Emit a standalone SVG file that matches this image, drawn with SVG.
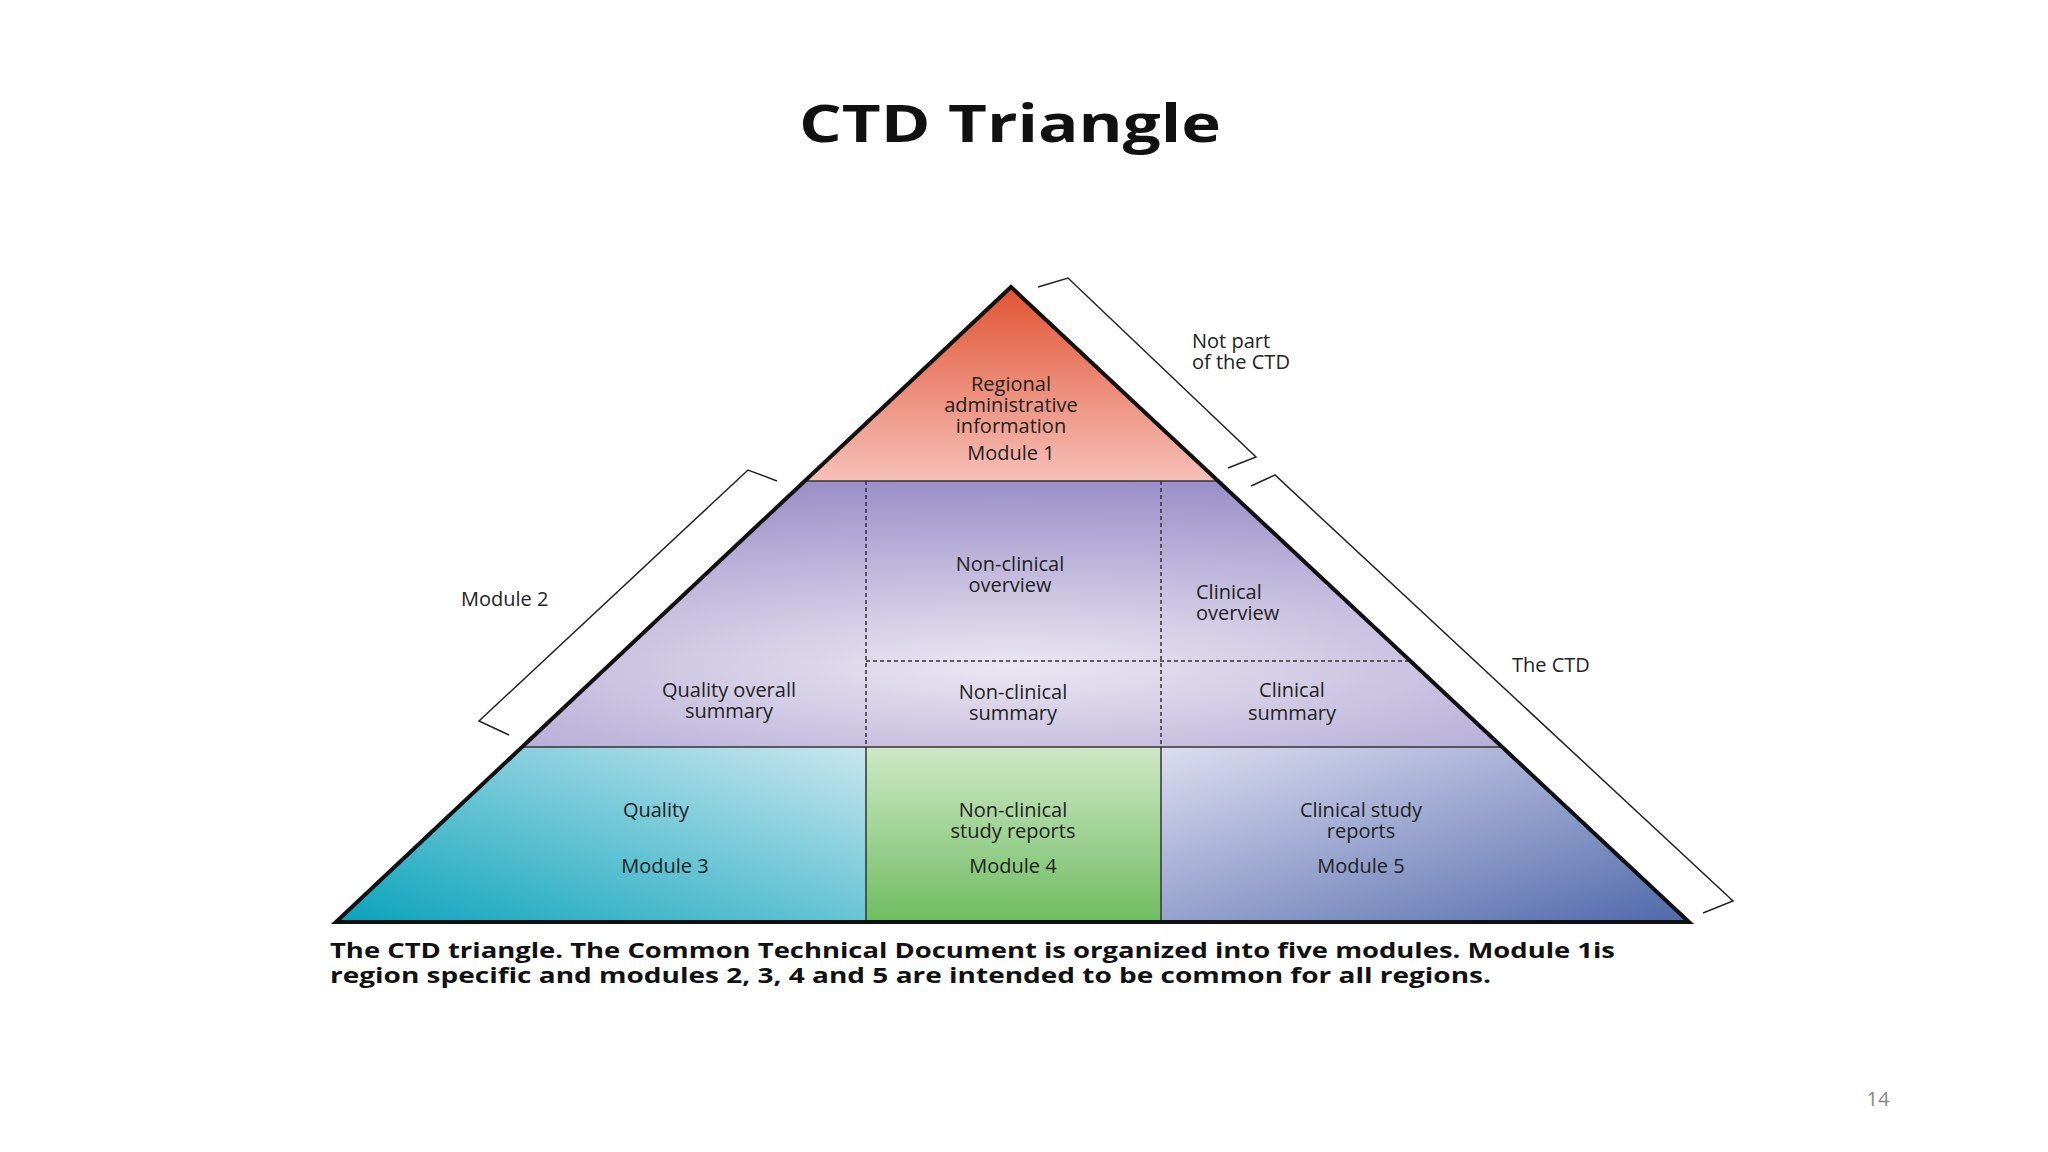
<svg xmlns="http://www.w3.org/2000/svg" width="2048" height="1152" viewBox="0 0 2048 1152">
<style>
.t{font-family:"Open Sans","Liberation Sans",sans-serif;font-size:20px;fill:#222;text-anchor:middle}
.l{text-anchor:start}
.b{fill:none;stroke:#222;stroke-width:1.5}
.c{font-family:"Open Sans","Liberation Sans",sans-serif;font-size:22px;font-weight:bold;fill:#111}
</style>
<defs>
<clipPath id="tri"><polygon points="1011,287 336,922 1689,922"/></clipPath>
<linearGradient id="gTop" x1="0" y1="0" x2="0" y2="1"><stop offset="0" stop-color="#e0502e"/><stop offset="1" stop-color="#f6c0b8"/></linearGradient>
<radialGradient id="gMid" cx="0.5" cy="0.7" r="0.7"><stop offset="0" stop-color="#ebe6f2"/><stop offset="1" stop-color="#9a90c8"/></radialGradient>
<linearGradient id="gQ" x1="0" y1="1" x2="1" y2="0"><stop offset="0" stop-color="#00a0b8"/><stop offset="1" stop-color="#c8e6ee"/></linearGradient>
<linearGradient id="gN" x1="0" y1="1" x2="0" y2="0"><stop offset="0" stop-color="#6cbb5e"/><stop offset="1" stop-color="#cfe8c6"/></linearGradient>
<linearGradient id="gC" x1="0" y1="0" x2="1" y2="1"><stop offset="0" stop-color="#dcdcef"/><stop offset="1" stop-color="#4a64a8"/></linearGradient>
</defs>
<rect width="2048" height="1152" fill="#fff"/>
<text x="799" y="142" textLength="422" lengthAdjust="spacingAndGlyphs" style="font-family:'Open Sans','Liberation Sans',sans-serif;font-size:52px;font-weight:bold;fill:#111">CTD Triangle</text>
<g id="pyramid" clip-path="url(#tri)">
<rect x="300" y="280" width="1420" height="201" fill="url(#gTop)"/>
<rect x="300" y="481" width="1420" height="266" fill="url(#gMid)"/>
<rect x="300" y="747" width="566" height="180" fill="url(#gQ)"/>
<rect x="866" y="747" width="295" height="180" fill="url(#gN)"/>
<rect x="1161" y="747" width="560" height="180" fill="url(#gC)"/>
<line x1="300" y1="481" x2="1720" y2="481" stroke="#333" stroke-width="1.5"/>
<line x1="300" y1="747" x2="1720" y2="747" stroke="#333" stroke-width="1.5"/>
<line x1="866" y1="481" x2="866" y2="747" stroke="#333" stroke-width="1.5" stroke-dasharray="4,3"/>
<line x1="1161" y1="481" x2="1161" y2="747" stroke="#333" stroke-width="1.5" stroke-dasharray="4,3"/>
<line x1="866" y1="661" x2="1420" y2="661" stroke="#333" stroke-width="1.5" stroke-dasharray="4,3"/>
<line x1="866" y1="747" x2="866" y2="922" stroke="#333" stroke-width="1.5"/>
<line x1="1161" y1="747" x2="1161" y2="922" stroke="#333" stroke-width="1.5"/>
</g>
<polygon points="1011,287 336,922 1689,922" fill="none" stroke="#111" stroke-width="4"/>
<g id="labels">
<text class="t" x="1011" y="391">Regional</text>
<text class="t" x="1011" y="412">administrative</text>
<text class="t" x="1011" y="433">information</text>
<text class="t" x="1011" y="460">Module 1</text>
<text class="t" x="1010" y="571">Non-clinical</text>
<text class="t" x="1010" y="592">overview</text>
<text class="t l" x="1196" y="599">Clinical</text>
<text class="t l" x="1196" y="620">overview</text>
<text class="t" x="729" y="697">Quality overall</text>
<text class="t" x="729" y="718">summary</text>
<text class="t" x="1013" y="699">Non-clinical</text>
<text class="t" x="1013" y="720">summary</text>
<text class="t" x="1292" y="697">Clinical</text>
<text class="t" x="1292" y="720">summary</text>
<text class="t" x="656" y="817">Quality</text>
<text class="t" x="665" y="873">Module 3</text>
<text class="t" x="1013" y="817">Non-clinical</text>
<text class="t" x="1013" y="838">study reports</text>
<text class="t" x="1013" y="873">Module 4</text>
<text class="t" x="1361" y="817">Clinical study</text>
<text class="t" x="1361" y="838">reports</text>
<text class="t" x="1361" y="873">Module 5</text>
<text class="t l" x="1192" y="348">Not part</text>
<text class="t l" x="1192" y="369">of the CTD</text>
<text class="t l" x="461" y="606">Module 2</text>
<text class="t l" x="1512" y="672">The CTD</text>
</g>
<g id="brackets">
<polyline class="b" points="1038,287 1068,278 1256,457 1228,468"/>
<polyline class="b" points="1251,486 1275,475 1733,901 1703,913"/>
<polyline class="b" points="777,481 748,470 479,721 509,735"/>
</g>
<text class="c" x="330" y="958" textLength="1285" lengthAdjust="spacingAndGlyphs">The CTD triangle. The Common Technical Document is organized into five modules. Module 1is</text>
<text class="c" x="330" y="983" textLength="1161" lengthAdjust="spacingAndGlyphs">region specific and modules 2, 3, 4 and 5 are intended to be common for all regions.</text>
<text x="1878" y="1106" style="font-family:'Open Sans','Liberation Sans',sans-serif;font-size:20px;fill:#888" text-anchor="middle">14</text>
</svg>
